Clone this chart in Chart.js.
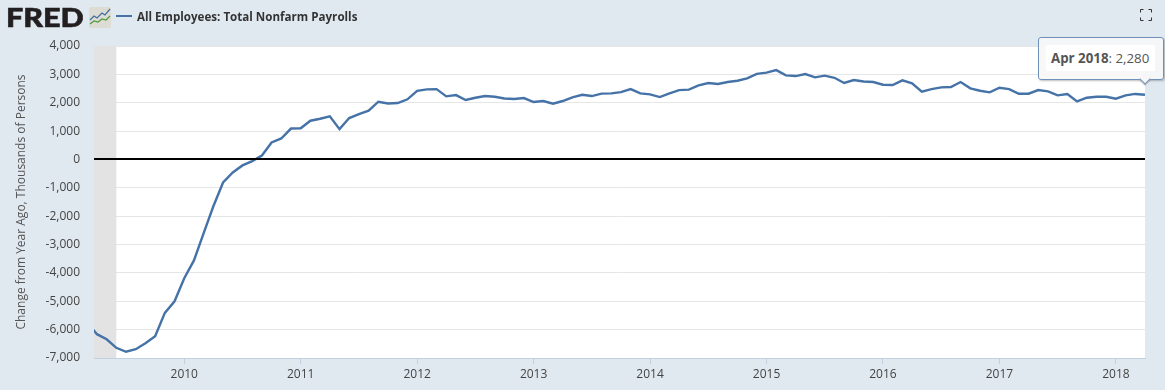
<!DOCTYPE html>
<html lang="en">
<head>
    <meta charset="UTF-8">
    <title>All Employees: Total Nonfarm Payrolls</title>
    <script src="https://cdn.jsdelivr.net/npm/chart.js"></script>
    <style>
        html, body { margin: 0; padding: 0; background: #e1e9f0; overflow: hidden; }
        #wrap { position: relative; width: 1165px; height: 390px; font-family: "Open Sans", sans-serif; }
        #chart { position: absolute; left: 0; top: 0; }
        #logo { position: absolute; left: 6px; top: 2px; font: 900 27px/30px Lato, sans-serif; color: #231f20; -webkit-text-stroke: 0.6px #231f20; transform: scaleX(1.13); transform-origin: left top; }
        #icon { position: absolute; left: 89px; top: 7px; }
        #legend-line { position: absolute; left: 116px; top: 15px; width: 16px; height: 2px; background: #4572a7; }
        #legend-text { position: absolute; left: 137px; top: 8px; font-size: 11.6px; line-height: 17px; font-weight: 700; color: #333; white-space: nowrap; }
        #expand { position: absolute; left: 1140px; top: 9px; }
        #tip { position: absolute; left: 1038px; top: 37px; width: 124px; height: 41px; background: rgba(247,247,247,0.9); border: 1px solid #6f90b8; border-radius: 3px; box-shadow: 1px 1px 2px rgba(0,0,0,0.25); }
        #tip-text { position: absolute; left: 7px; top: 7px; width: 99px; height: 26px; padding-left: 5px; padding-right: 5px; background: #fff; font-size: 13.3px; line-height: 26px; color: #555; white-space: nowrap; box-sizing: content-box; }
        #tip-text b { color: #555; }
        #tip-arrow { position: absolute; left: 1141px; top: 75px; width: 7px; height: 7px; background: #f7f7f7; border-right: 1px solid #6f90b8; border-bottom: 1px solid #6f90b8; box-shadow: 1px 1px 1px rgba(0,0,0,0.2); transform: rotate(45deg); z-index: 2; }
    </style>
</head>
<body>
<div id="wrap">
    <canvas id="chart" width="1165" height="390"></canvas>
    <div id="logo">FRED</div>
    <svg id="icon" width="22" height="21" viewBox="0 0 22 21">
        <rect x="0" y="0" width="22" height="21" rx="2" fill="#dcdcd4"/>
        <polyline points="1,13 5,9 8,11 13,6 16,8 21,2" fill="none" stroke="#3f6f9f" stroke-width="1.2"/>
        <polyline points="1,17 5,14 9,15 13,12 17,13 21,9" fill="none" stroke="#4f9a3e" stroke-width="1.2"/>
    </svg>
    <div id="legend-line"></div>
    <div id="legend-text">All Employees: Total Nonfarm Payrolls</div>
    <svg id="expand" width="12" height="12" viewBox="0 0 12 12">
        <path d="M0.5 3.5V0.5H3.5M8.5 0.5H11.5V3.5M11.5 8.5V11.5H8.5M3.5 11.5H0.5V8.5" fill="none" stroke="#333" stroke-width="1"/>
    </svg>
    <div id="tip"><div id="tip-text"></div></div>
    <div id="tip-arrow"></div>
</div>

<script>
    const yearLabels = ["2009", "2010", "2011", "2012", "2013", "2014", "2015", "2016", "2017", "2018"];
    const monthNames = ["Jan", "Feb", "Mar", "Apr", "May", "Jun", "Jul", "Aug", "Sep", "Oct", "Nov", "Dec"];
    const firstMonth = { year: 2009, month: 2 };

    // change from year ago, one value per month, Mar 2009 - Apr 2018
    const values2009 = [-5750, -6160, -6340, -6640, -6780, -6690, -6480, -6230, -5410, -5000];
    const values2010 = [-4190, -3560, -2600, -1650, -810, -460, -210, -60, 140, 600, 740, 1090];
    const values2011 = [1100, 1365, 1435, 1520, 1070, 1460, 1600, 1720, 2035, 1975, 1990, 2120];
    const values2012 = [2420, 2470, 2480, 2225, 2270, 2095, 2175, 2235, 2210, 2150, 2130, 2165];
    const values2013 = [2025, 2060, 1965, 2060, 2190, 2280, 2235, 2320, 2330, 2375, 2480, 2330];
    const values2014 = [2295, 2200, 2330, 2445, 2460, 2610, 2695, 2660, 2730, 2775, 2860, 3020];
    const values2015 = [3060, 3150, 2965, 2940, 3010, 2895, 2955, 2880, 2695, 2800, 2750, 2730];
    const values2016 = [2635, 2623, 2788, 2682, 2388, 2482, 2541, 2553, 2729, 2506, 2423, 2365];
    const values2017 = [2529, 2482, 2317, 2317, 2447, 2400, 2259, 2306, 2047, 2176, 2212, 2212];
    const values2018 = [2141, 2259, 2310, 2280];

    const yTicks = [-7000, -6000, -5000, -4000, -3000, -2000, -1000, 0, 1000, 2000, 3000, 4000];

    // recession shading, in months relative to Jan 2010
    const recessionEnd = -7;
    const xMin = -9.3;

    const allValues = [].concat(values2009, values2010, values2011, values2012, values2013,
        values2014, values2015, values2016, values2017, values2018);

    // x is months since Jan 2010
    const firstIndex = (firstMonth.year - 2010) * 12 + firstMonth.month;
    const points = allValues.map((v, i) => ({ x: firstIndex + i, y: v }));
    const lastIndex = points[points.length - 1].x;

    const lastDate = new Date(2010, lastIndex, 1);
    document.getElementById("tip-text").innerHTML =
        "<b>" + monthNames[lastDate.getMonth()] + " " + lastDate.getFullYear() + "</b>: " +
        allValues[allValues.length - 1].toLocaleString("en-US");

    const plotBackground = {
        id: "plotBackground",
        beforeDatasetsDraw(chart) {
            const { ctx, chartArea, scales } = chart;
            ctx.save();
            ctx.fillStyle = "#e3e3e3";
            ctx.fillRect(chartArea.left, chartArea.top, scales.x.getPixelForValue(recessionEnd) - chartArea.left, chartArea.height);
            ctx.restore();
        },
        beforeDraw(chart) {
            const { ctx, chartArea } = chart;
            ctx.save();
            ctx.fillStyle = "#fff";
            ctx.fillRect(chartArea.left, chartArea.top, chartArea.width, chartArea.height);
            ctx.restore();
        },
        afterDatasetsDraw(chart) {
            // zero line sits on top of the series
            const { ctx, chartArea, scales } = chart;
            const y = Math.round(scales.y.getPixelForValue(0));
            ctx.save();
            ctx.fillStyle = "#000";
            ctx.fillRect(chartArea.left, y - 1, chartArea.width, 2);
            ctx.restore();
        }
    };

    new Chart(document.getElementById("chart"), {
        type: "line",
        data: {
            datasets: [{
                label: "All Employees: Total Nonfarm Payrolls",
                data: points,
                borderColor: "#4572a7",
                borderWidth: 2.4,
                pointRadius: 0,
                tension: 0,
                fill: false
            }]
        },
        options: {
            responsive: false,
            animation: false,
            layout: { padding: { top: 46, right: 20, left: 14, bottom: 0 } },
            plugins: { legend: { display: false }, tooltip: { enabled: false } },
            scales: {
                x: {
                    type: "linear",
                    min: xMin,
                    max: lastIndex,
                    afterFit(scale) { scale.height = 32; },
                    afterBuildTicks(scale) {
                        scale.ticks = yearLabels.slice(1).map((_, i) => ({ value: i * 12 }));
                    },
                    border: { color: "#c0d0e0", width: 1 },
                    grid: { drawOnChartArea: false, drawTicks: true, tickLength: 6, color: "#c0d0e0" },
                    ticks: {
                        maxRotation: 0,
                        padding: 3,
                        color: "#444",
                        font: { family: "Open Sans", size: 12 },
                        callback: (v) => yearLabels[v / 12 + 1]
                    }
                },
                y: {
                    min: -7000,
                    max: 4000,
                    afterFit(scale) { scale.width = 80; },
                    afterBuildTicks(scale) { scale.ticks = yTicks.map(v => ({ value: v })); },
                    border: { display: false },
                    grid: { color: "#e6e6e6", drawTicks: false },
                    title: {
                        display: true,
                        text: "Change from Year Ago, Thousands of Persons",
                        color: "#555",
                        padding: { top: 0, bottom: 0 },
                        font: { family: "Open Sans", size: 12, weight: "normal" }
                    },
                    ticks: {
                        padding: 14,
                        color: "#444",
                        font: { family: "Open Sans", size: 12 },
                        callback: (v) => v.toLocaleString("en-US")
                    }
                }
            }
        },
        plugins: [plotBackground]
    });
</script>
</body>
</html>
